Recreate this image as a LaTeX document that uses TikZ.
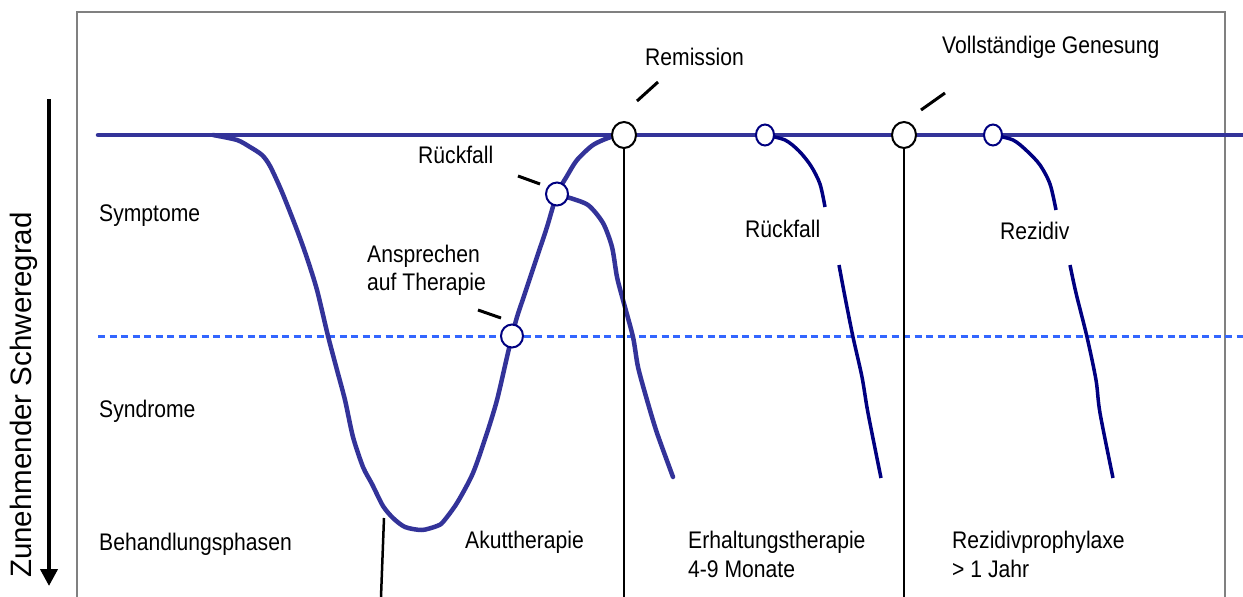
\documentclass[tikz,border=0pt]{standalone}
\usepackage{fontspec}
\setmainfont{Liberation Sans}[FakeStretch=0.88]
\newfontfamily\axisfont{Liberation Sans}
\usetikzlibrary{arrows.meta,shapes.geometric}
\definecolor{curveblue}{RGB}{51,51,153}
\definecolor{navyb}{RGB}{0,0,128}
\definecolor{dotblue}{RGB}{51,102,255}
\definecolor{framegray}{RGB}{128,128,128}
\tikzset{
  lbl/.style={font=\fontsize{24}{29}\selectfont, inner sep=0pt, anchor=base west},
  maincurve/.style={draw=curveblue, line width=4.5pt, line join=round, line cap=round},
  branchcurve/.style={draw=navyb, line width=3.5pt, line join=round},
  bigring/.style={ellipse, draw=black, line width=2pt, fill=white, minimum width=24pt, minimum height=26pt, inner sep=0pt},
  bluering/.style={ellipse, draw=navyb, line width=2pt, fill=white, minimum width=22pt, minimum height=23pt, inner sep=0pt},
  smallring/.style={ellipse, draw=navyb, line width=2pt, fill=white, minimum width=18pt, minimum height=21pt, inner sep=0pt},
  tick/.style={draw=black, line width=3pt},
  phaseline/.style={draw=black, line width=2.5pt},
}
\begin{document}
\begin{tikzpicture}[x=1pt,y=-1pt]
\useasboundingbox (0,0) rectangle (1243,597);
\fill[white] (0,0) rectangle (1243,597);
% frame
\draw[framegray, line width=2pt] (77,597) -- (77,12) -- (1225,12) -- (1225,597);
% dotted syndrome line
\draw[dotblue, line width=3pt, dash pattern=on 7pt off 4.5pt] (98,336) -- (1243,336);
% baseline
\draw[maincurve] (98,135) -- (1243,135);
% main curve
\draw[maincurve] plot[smooth, tension=0.45] coordinates {
 (213,135) (237,140) (250,147) (262,155) (270,166) (282,192) (297,230) (307,258)
 (317,290) (328,336) (337,370) (345,400) (353,437) (363,467) (372,484) (383,506)
 (393,518) (405,527) (422,530) (437,526) (443,522) (457,503) (473,473) (487,433)
 (497,400) (507,357) (512,336) (517,317) (525,293) (537,257) (547,227) (557,194)
 (567,176) (577,160) (593,145) (611,137) (626,135)};
% early relapse branch
\draw[maincurve] plot[smooth, tension=0.45] coordinates {
 (557,194) (567,197) (588,205) (603,223) (612,247) (617,277) (623,300) (633,337)
 (638,367) (647,400) (657,433) (673,477)};
% relapse branch after remission
\draw[branchcurve] plot[smooth, tension=0.5] coordinates {
 (765,135) (785,140) (799,151) (811,166) (820,184) (825,207)};
\draw[branchcurve] plot[smooth, tension=0.5] coordinates {
 (839,265) (845,297) (853,337) (862,377) (868,413) (881,478)};
% recurrence branch
\draw[branchcurve] plot[smooth, tension=0.5] coordinates {
 (993,135) (1013,140) (1027,151) (1040,165) (1050,184) (1056,210)};
\draw[branchcurve] plot[smooth, tension=0.5] coordinates {
 (1070,265) (1076,293) (1087,337) (1096,380) (1100,413) (1113,478)};
% axis arrow
\coordinate (axtop) at (49,99);
\coordinate (axbot) at (49,586);
\draw[line width=4pt, -{Triangle[width=17pt,length=17pt]}] (axtop) -- (axbot);
\node[rotate=90, font=\axisfont\fontsize{29.5}{34}\selectfont, inner sep=0pt] (axlbl) at (24,395) {Zunehmender Schweregrad};
% markers
\node[bigring] (rem) at (624,135) {};
\node[bigring] (gen) at (904,135) {};
\node[smallring] (rf2) at (765,135) {};
\node[smallring] (rez) at (993,135) {};
\node[bluering] (rf1) at (557,194) {};
\node[bluering] (ans) at (512,336) {};
% phase lines
\coordinate (p0top) at (384,518);
\coordinate (p0bot) at (381,597);
\draw[phaseline] (p0top) -- (p0bot);
\draw[phaseline] (rem.south) -- (rem.south |- 0,597);
\draw[phaseline] (gen.south) -- (gen.south |- 0,597);
% ticks
\draw[tick] (637,101) -- (658,82);
\draw[tick] (921,110) -- (945,93);
\draw[tick] (518,176) -- (540,184);
\draw[tick] (478,310) -- (501,318);
% labels
\node[lbl] (tRem) at (645,65) {Remission};
\node[lbl] (tGen) at (942,53) {Vollständige Genesung};
\node[lbl] (tRf1) at (418,163) {Rückfall};
\node[lbl] (tSym) at (99,221) {Symptome};
\node[lbl] (tRf2) at (745,237) {Rückfall};
\node[lbl] (tRez) at (1000,239) {Rezidiv};
\node[lbl] (tAns1) at (367,262) {Ansprechen};
\node[lbl] (tAns2) at (367,290) {auf Therapie};
\node[lbl] (tSyn) at (99,417) {Syndrome};
\node[lbl] (tBeh) at (99,550) {Behandlungsphasen};
\node[lbl] (tAku) at (465,548) {Akuttherapie};
\node[lbl] (tErh1) at (688,548) {Erhaltungstherapie};
\node[lbl] (tErh2) at (688,577) {4-9 Monate};
\node[lbl] (tRp1) at (952,548) {Rezidivprophylaxe};
\node[lbl] (tRp2) at (952,577) {> 1 Jahr};
\end{tikzpicture}
\end{document}
